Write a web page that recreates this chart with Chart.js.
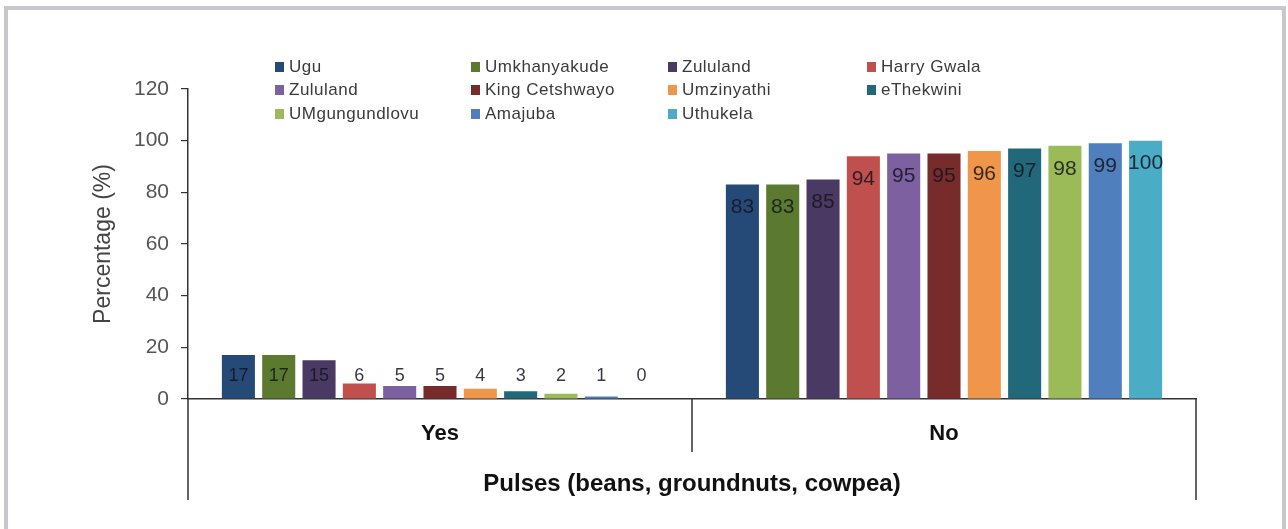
<!DOCTYPE html>
<html>
<head>
<meta charset="utf-8">
<script src="https://cdn.jsdelivr.net/npm/chart.js@4.4.0/dist/chart.umd.min.js"></script>
<style>
    html, body { margin: 0; padding: 0; background: #fff; }
    #wrap { position: relative; width: 1288px; height: 529px; overflow: hidden; }
    #frame {
        position: absolute; left: 4px; top: 6px; width: 1274px; height: 600px;
        border: 4px solid #c8c8cc; box-sizing: content-box; pointer-events: none;
    }
    #chart { position: absolute; left: 0; top: 0; }
    #legend {
        position: absolute; left: 275px; top: 55px;
        display: grid; grid-template-columns: 196px 197px 199px 160px;
        grid-auto-rows: 23.5px;
        font-family: 'Liberation Sans', Arial, sans-serif; font-size: 17px;
        color: #3a3a3a; letter-spacing: 0.5px;
    }
    .item { display: flex; align-items: center; white-space: nowrap; }
    .swatch { width: 9px; height: 10px; margin-right: 5px; display: inline-block; }
</style>
</head>
<body>
<div id="wrap">
    <canvas id="chart" width="1288" height="529"></canvas>
    <div id="legend"></div>
    <div id="frame"></div>
</div>
<script>
// categories and series
const categories = ['Yes', 'No'];
const districts = ['Ugu', 'Umkhanyakude', 'Zululand', 'Harry Gwala', 'Zululand', 'King Cetshwayo',
    'Umzinyathi', 'eThekwini', 'UMgungundlovu', 'Amajuba', 'Uthukela'];
const yesValues = [17, 17, 15, 6, 5, 5, 4, 3, 2, 1, 0];
const noValues = [83, 83, 85, 94, 95, 95, 96, 97, 98, 99, 100];
const colours = ['#264a78', '#5b7a2f', '#4a3962', '#c0504d', '#7d60a0', '#772b2a',
    '#f0964b', '#22687b', '#9bbb59', '#4f80bd', '#4bacc6'];
const yTicks = [0, 20, 40, 60, 80, 100, 120];

const datasets = districts.map((name, i) => ({
    label: name,
    data: [yesValues[i], noValues[i]],
    backgroundColor: colours[i],
    borderWidth: 0,
    barPercentage: 0.82,
    categoryPercentage: 0.88
}));

// legend built as a 4 column grid
const legendEl = document.getElementById('legend');
districts.forEach((name, i) => {
    const div = document.createElement('div');
    div.className = 'item';
    div.innerHTML = '<span class="swatch" style="background:' + colours[i] + '"></span>' + name;
    legendEl.appendChild(div);
});

// value labels: near the top inside the bar, never lower than a fixed line above the axis
const valueLabels = {
    id: 'valueLabels',
    afterDatasetsDraw(chart) {
        const ctx = chart.ctx;
        const base = chart.scales.y.getPixelForValue(0);
        ctx.save();
        ctx.textAlign = 'center';
        ctx.textBaseline = 'middle';
        chart.data.datasets.forEach((ds, di) => {
            const meta = chart.getDatasetMeta(di);
            meta.data.forEach((bar, idx) => {
                const v = ds.data[idx];
                const y = Math.min(bar.y + 23, base - 23);
                ctx.font = (idx === 0 ? '18px' : '21px') + " 'Liberation Sans', Arial, sans-serif";
                ctx.fillStyle = 'rgba(20,20,30,0.85)';
                ctx.fillText(String(v), bar.x, y);
            });
        });
        ctx.restore();
    }
};

// category separators of the x axis
const axisLines = {
    id: 'axisLines',
    afterDraw(chart) {
        const ctx = chart.ctx;
        const area = chart.chartArea;
        const step = (area.right - area.left) / categories.length;
        ctx.save();
        ctx.strokeStyle = '#333';
        ctx.lineWidth = 1.5;
        ctx.beginPath();
        // outer edges go down to the bottom, inner one is short
        ctx.moveTo(area.left, area.bottom); ctx.lineTo(area.left, 500);
        ctx.moveTo(area.right, area.bottom); ctx.lineTo(area.right, 500);
        for (let i = 1; i < categories.length; i++) {
            const px = area.left + step * i;
            ctx.moveTo(px, area.bottom); ctx.lineTo(px, 452);
        }
        ctx.stroke();
        ctx.restore();
    }
};

new Chart(document.getElementById('chart'), {
    type: 'bar',
    data: { labels: categories, datasets: datasets },
    options: {
        responsive: false,
        animation: false,
        layout: { padding: { left: 0, right: 92, top: 89, bottom: 0 } },
        plugins: {
            legend: { display: false },
            tooltip: { enabled: false }
        },
        scales: {
            x: {
                grid: { display: false, drawTicks: false },
                border: { display: true, color: '#333', width: 1.5 },
                ticks: {
                    padding: 22,
                    color: '#111',
                    font: { family: "'Liberation Sans', Arial, sans-serif", size: 22, weight: 'bold' }
                },
                title: {
                    display: true,
                    text: 'Pulses (beans, groundnuts, cowpea)',
                    color: '#111',
                    font: { family: "'Liberation Sans', Arial, sans-serif", size: 24, weight: 'bold' },
                    padding: { top: 0, bottom: 30 }
                },
                afterFit(scale) { scale.height = 130; }
            },
            y: {
                min: 0,
                max: 120,
                afterBuildTicks(scale) { scale.ticks = yTicks.map(v => ({ value: v })); },
                grid: { drawOnChartArea: false, drawTicks: true, tickLength: 7, color: '#333', lineWidth: 1.2 },
                border: { display: true, color: '#333', width: 1.5 },
                ticks: {
                    padding: 12,
                    color: '#555',
                    font: { family: "'Liberation Sans', Arial, sans-serif", size: 21 }
                },
                title: {
                    display: true,
                    text: 'Percentage (%)',
                    color: '#444',
                    font: { family: "'Liberation Sans', Arial, sans-serif", size: 23 },
                    padding: { top: 90, bottom: 0 }
                },
                afterFit(scale) { scale.width = 188; }
            }
        }
    },
    plugins: [valueLabels, axisLines]
});
</script>
</body>
</html>
